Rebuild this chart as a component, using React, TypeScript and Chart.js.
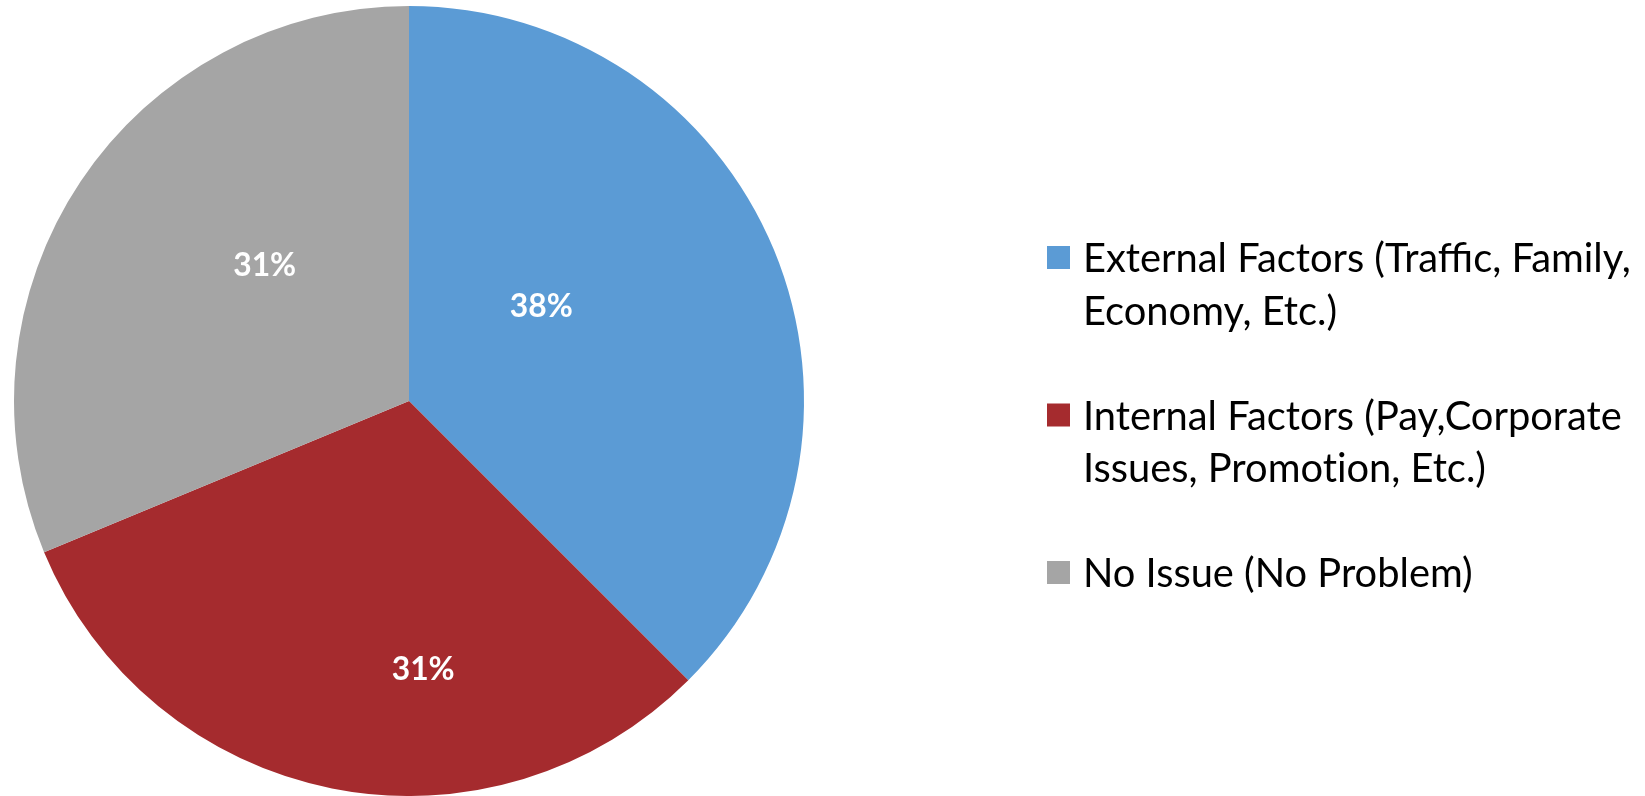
import React, { useEffect, useRef } from "react";
import { Chart, registerables } from "chart.js";

Chart.register(...registerables);

// ---- data ----
const categories: string[][] = [
  ["External Factors (Traffic, Family,", "Economy, Etc.)"],
  ["Internal Factors (Pay,Corporate", "Issues, Promotion, Etc.)"],
  ["No Issue (No Problem)"],
];
const shares: number[] = [37.5, 31.25, 31.25];

// ---- style ----
const sliceColors = ["#5B9BD5", "#A52B2E", "#A5A5A5"];
// label placement inside each slice: [fraction of slice angle, fraction of radius]
const labelPlacement: number[][] = [
  [0.4, 0.414],
  [0.373, 0.678],
  [0.586, 0.503],
];
const FONT = "Lato, 'Open Sans', sans-serif";

// break the Lato "ti" ligature (Calibri in the reference has none)
const noTiLigature = (s: string) => s.replace(/ti/g, "t\u200Ci");

const overlayPlugin = {
  id: "overlay",
  afterDraw(chart: any) {
    const ctx: CanvasRenderingContext2D = chart.ctx;
    const meta = chart.getDatasetMeta(0);
    const total = shares.reduce((a, b) => a + b, 0);

    // data labels
    ctx.save();
    let size = 36;
    ctx.font = `bold ${size}px ${FONT}`;
    const w = ctx.measureText("38%").width;
    size = (size * 63) / w;
    ctx.font = `bold ${size}px ${FONT}`;
    const capL = ctx.measureText("38").actualBoundingBoxAscent;
    ctx.fillStyle = "#FFFFFF";
    ctx.textAlign = "center";
    ctx.textBaseline = "alphabetic";
    meta.data.forEach((arc: any, i: number) => {
      const p = arc.getProps(["x", "y", "startAngle", "endAngle", "outerRadius"], true);
      const [fa, fr] = labelPlacement[i];
      const a = p.startAngle + fa * (p.endAngle - p.startAngle);
      const r = fr * p.outerRadius;
      const x = p.x + Math.cos(a) * r;
      const y = p.y + Math.sin(a) * r;
      const txt = Math.round((shares[i] / total) * 100) + "%";
      ctx.fillText(txt, x, y + capL / 2);
    });
    ctx.restore();

    // legend
    ctx.save();
    let ls = 36;
    ctx.font = `${ls}px ${FONT}`;
    const lw = ctx.measureText(categories[0][0]).width;
    ls = (ls * 548) / lw;
    ctx.font = `${ls}px ${FONT}`;
    const cap = ctx.measureText("E").actualBoundingBoxAscent;
    ctx.textAlign = "left";
    ctx.textBaseline = "alphabetic";
    const x0 = 1047;
    const box = 23;
    const textX = 1083;
    const firstBaseline = 272;
    const lineH = 52.5;
    let line = 0;
    categories.forEach((lines, i) => {
      const base = firstBaseline + line * lineH;
      ctx.fillStyle = sliceColors[i];
      ctx.fillRect(x0, base - cap / 2 - box / 2, box, box);
      ctx.fillStyle = "#000000";
      lines.forEach((t, j) => {
        ctx.fillText(noTiLigature(t), textX, base + j * lineH);
      });
      line += lines.length + 1;
    });
    ctx.restore();
  },
};

export default function App() {
  const ref = useRef<HTMLCanvasElement | null>(null);
  useEffect(() => {
    document.body.style.margin = "0";
    if (!ref.current) return;
    const chart = new Chart(ref.current, {
      type: "pie",
      data: {
        labels: categories.map((l) => l.join(" ")),
        datasets: [
          {
            data: shares,
            backgroundColor: sliceColors,
            borderWidth: 0,
          },
        ],
      },
      options: {
        responsive: false,
        animation: false,
        layout: { padding: { left: 14, top: 6, bottom: 0, right: 841 } },
        plugins: {
          legend: { display: false },
          tooltip: { enabled: false },
        },
      },
      plugins: [overlayPlugin],
    });
    return () => chart.destroy();
  }, []);
  return (
    <div style={{ width: 1645, height: 796, background: "#fff" }}>
      <canvas ref={ref} width={1645} height={796} style={{ display: "block" }} />
    </div>
  );
}
